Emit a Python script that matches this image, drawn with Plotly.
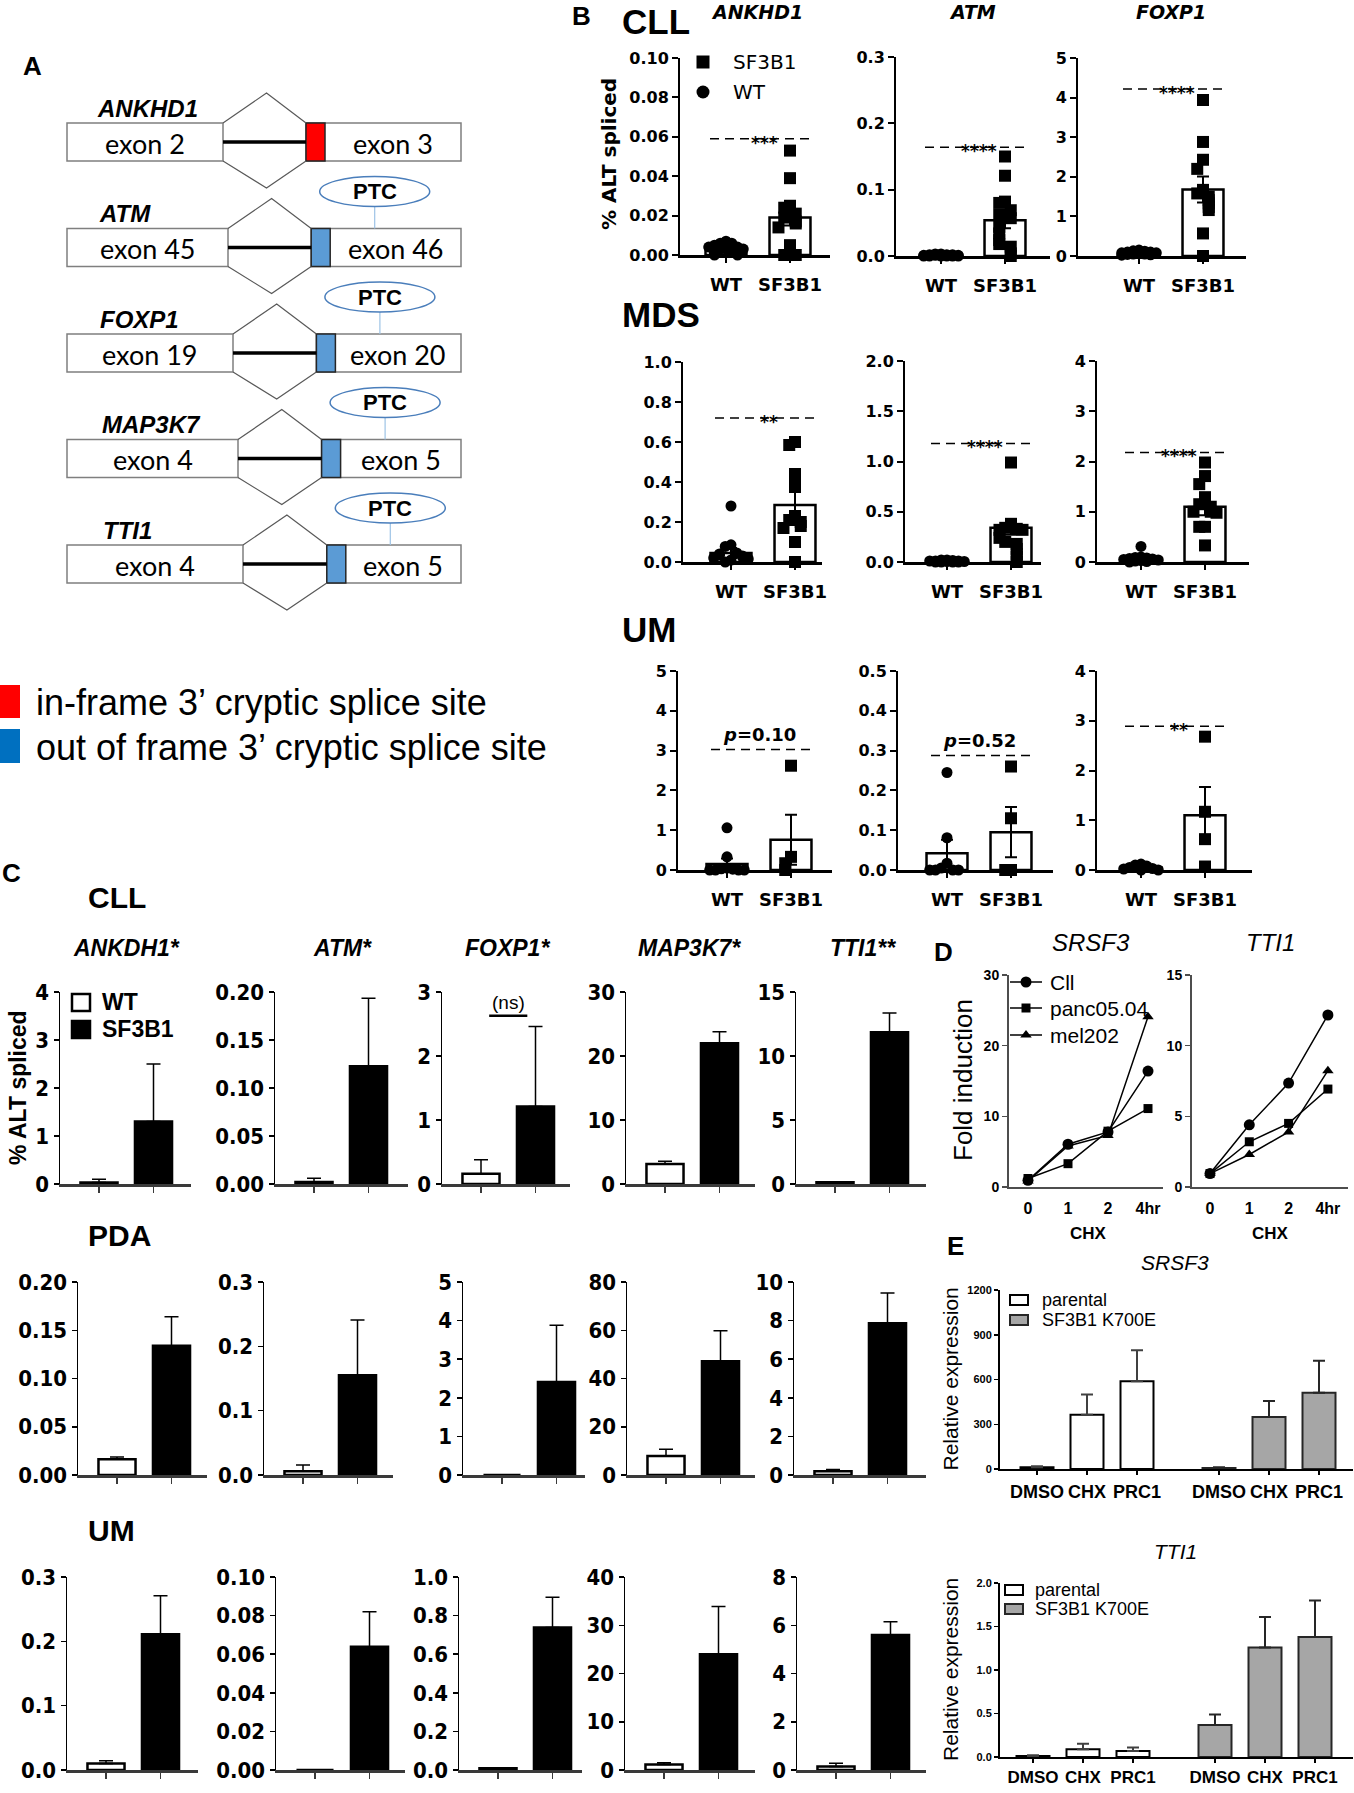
import numpy as np
import plotly.graph_objects as go

W, H = 1354, 1793
ARIAL = "Liberation Sans, Arial, Helvetica, sans-serif"
NARROW = "DejaVu Sans Condensed, Liberation Sans Narrow, Arial Narrow, sans-serif"
WIDE = "DejaVu Sans, Verdana, sans-serif"
CALIB = "Lato, Carlito, Calibri, sans-serif"

# ======================= DATA =======================
# ---- Panel A (diagram) ----
A_GENES = ["ANKHD1", "ATM", "FOXP1", "MAP3K7", "TTI1"]
A_EXON_UP = ["exon 2", "exon 45", "exon 19", "exon 4", "exon 4"]
A_EXON_DOWN = ["exon 3", "exon 46", "exon 20", "exon 5", "exon 5"]
A_SITE = ["in-frame", "out of frame", "out of frame", "out of frame", "out of frame"]
A_PTC = [False, True, True, True, True]
A_LEGEND = ["in-frame 3\u2019 cryptic splice site", "out of frame 3\u2019 cryptic splice site"]

# ---- Panel B (dot plots, % ALT spliced) ----
B_GROUPS = ["WT", "SF3B1"]
B_GENES = ["ANKHD1", "ATM", "FOXP1"]
B_COHORTS = ["CLL", "MDS", "UM"]

B_CLL_ANKHD1_WT = [0.007, 0.006, 0.006, 0.005, 0.004, 0.004, 0.003, 0.003, 0.003, 0.002, 0.002, 0.001, 0.001, 0.0, 0.0]
B_CLL_ANKHD1_SF3B1 = [0.053, 0.039, 0.025, 0.024, 0.021, 0.019, 0.017, 0.016, 0.014, 0.005, 0.0, 0.0]
B_CLL_ATM_WT = [0.003, 0.003, 0.002, 0.002, 0.002, 0.001, 0.001, 0.001, 0.001, 0.0, 0.0, 0.0, 0.0, 0.0, 0.0]
B_CLL_ATM_SF3B1 = [0.150, 0.121, 0.082, 0.080, 0.069, 0.062, 0.057, 0.044, 0.034, 0.024, 0.018, 0.014, 0.004, 0.0]
B_CLL_FOXP1_WT = [0.15, 0.13, 0.12, 0.10, 0.10, 0.08, 0.08, 0.06, 0.05, 0.05, 0.04, 0.03, 0.02]
B_CLL_FOXP1_SF3B1 = [3.94, 2.88, 2.43, 2.20, 1.67, 1.58, 1.50, 1.41, 1.33, 1.24, 1.16, 0.57, 0.0]
B_CLL_MEAN_WT = [0.003, 0.001, 0.08]
B_CLL_SEM_WT = [0.0005, 0.0003, 0.01]
B_CLL_MEAN_SF3B1 = [0.019, 0.054, 1.68]
B_CLL_SEM_SF3B1 = [0.004, 0.012, 0.33]
B_CLL_YMAX = [0.10, 0.3, 5]
B_CLL_DTICK = [0.02, 0.1, 1]
B_CLL_SIG = ["***", "****", "****"]
B_CLL_SIG_Y = [0.059, 0.164, 4.22]

B_MDS_ANKHD1_WT = [0.28, 0.086, 0.078, 0.045, 0.04, 0.035, 0.03, 0.025, 0.02, 0.015, 0.01, 0.0]
B_MDS_ANKHD1_SF3B1 = [0.60, 0.585, 0.44, 0.385, 0.23, 0.21, 0.20, 0.18, 0.17, 0.10, 0.0]
B_MDS_ATM_WT = [0.02, 0.02, 0.015, 0.01, 0.01, 0.01, 0.005, 0.005, 0.0, 0.0, 0.0, 0.0]
B_MDS_ATM_SF3B1 = [0.99, 0.38, 0.34, 0.33, 0.32, 0.32, 0.24, 0.20, 0.18, 0.13, 0.08, 0.05, 0.0]
B_MDS_FOXP1_WT = [0.31, 0.10, 0.09, 0.08, 0.07, 0.06, 0.05, 0.04, 0.03, 0.02, 0.01, 0.0]
B_MDS_FOXP1_SF3B1 = [1.98, 1.71, 1.55, 1.29, 1.15, 1.10, 1.0, 1.0, 0.98, 0.70, 0.70, 0.33]
B_MDS_MEAN_WT = [0.045, 0.008, 0.07]
B_MDS_SEM_WT = [0.025, 0.002, 0.025]
B_MDS_MEAN_SF3B1 = [0.285, 0.34, 1.10]
B_MDS_SEM_SF3B1 = [0.065, 0.07, 0.17]
B_MDS_YMAX = [1.0, 2.0, 4]
B_MDS_DTICK = [0.2, 0.5, 1]
B_MDS_SIG = ["**", "****", "****"]
B_MDS_SIG_Y = [0.72, 1.18, 2.18]

B_UM_ANKHD1_WT = [1.06, 0.33, 0.05, 0.03, 0.02, 0.0, 0.0, 0.0, 0.0]
B_UM_ANKHD1_SF3B1 = [2.62, 0.33, 0.17, 0.0]
B_UM_ATM_WT = [0.245, 0.081, 0.017, 0.005, 0.0, 0.0, 0.0, 0.0]
B_UM_ATM_SF3B1 = [0.26, 0.13, 0.0, 0.0]
B_UM_FOXP1_WT = [0.12, 0.10, 0.08, 0.05, 0.03, 0.02, 0.0, 0.0]
B_UM_FOXP1_SF3B1 = [2.68, 1.17, 0.62, 0.07]
B_UM_MEAN_WT = [0.15, 0.042, 0.05]
B_UM_SEM_WT = [0.14, 0.034, 0.02]
B_UM_MEAN_SF3B1 = [0.76, 0.095, 1.10]
B_UM_SEM_SF3B1 = [0.63, 0.063, 0.57]
B_UM_YMAX = [5, 0.5, 4]
B_UM_DTICK = [1, 0.1, 1]
B_UM_SIG = ["<i>p</i>=0.10", "<i>p</i>=0.52", "**"]
B_UM_SIG_Y = [3.03, 0.288, 2.89]

# ---- Panel C (bar charts, mean + SEM) ----
C_GENES = ["ANKDH1*", "ATM*", "FOXP1*", "MAP3K7*", "TTI1**"]
C_COHORTS = ["CLL", "PDA", "UM"]
C_GROUPS = ["WT", "SF3B1"]

C_CLL_WT = [0.03, 0.002, 0.16, 3.14, 0.13]
C_CLL_WT_ERR = [0.07, 0.004, 0.22, 0.42, 0.05]
C_CLL_SF3B1 = [1.30, 0.1226, 1.21, 22.0, 11.86]
C_CLL_SF3B1_ERR = [1.20, 0.071, 1.25, 1.8, 1.49]
C_CLL_YMAX = [4, 0.20, 3, 30, 15]
C_CLL_DTICK = [1, 0.05, 1, 10, 5]

C_PDA_WT = [0.0163, 0.0057, 0.0, 7.9, 0.19]
C_PDA_WT_ERR = [0.0023, 0.010, 0.0, 2.8, 0.10]
C_PDA_SF3B1 = [0.134, 0.155, 2.41, 47.2, 7.86]
C_PDA_SF3B1_ERR = [0.030, 0.086, 1.47, 12.6, 1.57]
C_PDA_YMAX = [0.20, 0.3, 5, 80, 10]
C_PDA_DTICK = [0.05, 0.1, 1, 20, 2]

C_UM_WT = [0.0102, 0.0, 0.009, 1.14, 0.15]
C_UM_WT_ERR = [0.004, 0.0, 0.002, 0.36, 0.13]
C_UM_SF3B1 = [0.211, 0.0638, 0.738, 24.0, 5.6]
C_UM_SF3B1_ERR = [0.060, 0.0182, 0.157, 9.9, 0.55]
C_UM_YMAX = [0.3, 0.10, 1.0, 40, 8]
C_UM_DTICK = [0.1, 0.02, 0.2, 10, 2]

C_NS_LABEL = "(ns)"
C_NS_Y = 2.63

# ---- Panel D (fold induction after CHX) ----
D_TIME = ["0", "1", "2", "4hr"]
D_LINES = ["Cll", "panc05.04", "mel202"]
D_SRSF3_CLL = [0.94, 6.05, 7.8, 16.4]
D_SRSF3_PANC = [1.2, 3.3, 7.9, 11.1]
D_SRSF3_MEL = [0.85, 5.8, 7.3, 24.1]
D_TTI1_CLL = [0.95, 4.4, 7.35, 12.17]
D_TTI1_PANC = [0.95, 3.2, 4.5, 6.93]
D_TTI1_MEL = [0.95, 2.3, 3.9, 8.23]
D_YMAX = [30, 15]
D_DTICK = [10, 5]

# ---- Panel E (relative expression) ----
E_TREAT = ["DMSO", "CHX", "PRC1"]
E_LINES = ["parental", "SF3B1 K700E"]
E_SRSF3_PAR = [12, 364, 589]
E_SRSF3_PAR_ERR = [7, 135, 207]
E_SRSF3_K700E = [7, 349, 511]
E_SRSF3_K700E_ERR = [5, 107, 214]
E_TTI1_PAR = [0.012, 0.088, 0.068]
E_TTI1_PAR_ERR = [0.008, 0.064, 0.04]
E_TTI1_K700E = [0.368, 1.26, 1.38]
E_TTI1_K700E_ERR = [0.12, 0.35, 0.42]
E_YMAX = [1200, 2.0]
E_DTICK = [300, 0.5]

# ================= LAYOUT PARAMETERS (pixels) =================
B_BOXES = [
    [(680, 830, 58, 255, 726), (896, 1050, 57, 256, 941), (1078, 1246, 58, 256, 1139)],
    [(683, 822, 362, 562, 731), (905, 1041, 361, 562, 947), (1097, 1249, 361, 562, 1141)],
    [(678, 832, 671, 870, 727), (898, 1053, 671, 870, 947), (1097, 1252, 671, 870, 1141)],
]
B_UNIT = 64
B_TITLE_Y = [21, 314, 629]
C_ROWS_Y = [(992, 1184), (1282, 1475), (1577, 1770)]
C_BOXES = [
    [(60, 191), (275, 408), (442, 570), (626, 755), (796, 926)],
    [(78, 207), (264, 393), (463, 585), (627, 755), (794, 926)],
    [(67, 198), (276, 405), (459, 582), (625, 755), (797, 926)],
]
C_TITLE_Y = [897, 1235, 1530]
C_GENE_X = [126, 342, 507, 689, 863]
C_FIRST, C_UNIT = 39, 54.5
D_BOXES = [(1009, 1163, 975, 1187, 1028, 40.0), (1192, 1348, 975, 1187, 1210, 39.3)]
E_BOXES = [(1000, 1353, 1290, 1469, 1037), (1000, 1353, 1583, 1757, 1033)]
E_UNIT, E_GAP = 50, 1.64

# ======================= FIGURE =======================
fig = go.Figure()
axes = {}
shapes = []
annos = []
_count = [0]


def add_axes(left, right, top, bottom, xrange, yrange, xopts=None, yopts=None):
    _count[0] += 1
    n = _count[0]
    s = "" if n == 1 else str(n)
    axes["xaxis" + s] = dict(domain=[left / W, right / W], range=xrange, anchor="y" + s, automargin=False,
                             showgrid=False, zeroline=False, fixedrange=True, **(xopts or {}))
    axes["yaxis" + s] = dict(domain=[1 - bottom / H, 1 - top / H], range=yrange, anchor="x" + s, automargin=False,
                             showgrid=False, zeroline=False, fixedrange=True, **(yopts or {}))
    return "x" + s, "y" + s


# full-page pixel overlay (for diagram, labels, legends)
PXA, PYA = add_axes(0, W, 0, H, [0, W], [H, 0], dict(visible=False), dict(visible=False))


def T(text, x, y, size, family=ARIAL, weight="normal", style="normal", xanchor="center",
      yanchor="middle", angle=0, xref=None, yref=None, **kw):
    annos.append(dict(text=text, x=x, y=y, xref=xref or PXA, yref=yref or PYA, showarrow=False,
                      xanchor=xanchor, yanchor=yanchor, textangle=angle,
                      font=dict(family=family, size=size, color="black", weight=weight, style=style), **kw))


def S(**kw):
    kw.setdefault("xref", PXA)
    kw.setdefault("yref", PYA)
    shapes.append(kw)


def tfmt(dt):
    s = f"{dt:g}"
    return f".{len(s.split('.')[1])}f" if "." in s else ".0f"


def swarm(vals, ymax, step=0.09, tol=0.05):
    vals = np.asarray(vals, float)
    order = np.argsort(-vals, kind="stable")
    pattern = [0, -1, 1, -2, 2, -3, 3]
    placed = []
    off = np.zeros(len(vals))
    for i in order:
        c = sum(1 for v in placed if abs(v - vals[i]) / ymax < tol)
        off[i] = pattern[c % len(pattern)] * step
        placed.append(vals[i])
    return off


# ---------------- Panel A ----------------
T("A", 32, 66, 26, weight="bold")
for i, gene in enumerate(A_GENES):
    yc = 142 + 105.5 * i
    lx1 = 223 + 5 * i
    bx0 = 306 + 5.2 * i
    bx1 = bx0 + 19
    S(type="rect", x0=67, x1=lx1, y0=yc - 19, y1=yc + 19, fillcolor="white",
      line=dict(color="#7F7F7F", width=1.5))
    S(type="rect", x0=bx0, x1=461, y0=yc - 19, y1=yc + 19, fillcolor="white",
      line=dict(color="#7F7F7F", width=1.5))
    S(type="rect", x0=bx0, x1=bx1, y0=yc - 19, y1=yc + 19,
      fillcolor="#FF0000" if A_SITE[i] == "in-frame" else "#5B9BD5",
      line=dict(color="#262626", width=1.5))
    S(type="line", x0=lx1, x1=bx0, y0=yc, y1=yc, line=dict(color="black", width=3.5))
    ax = (lx1 + bx0) / 2 + 2
    S(type="path", path=f"M {lx1},{yc-19} L {ax},{yc-49} L {bx0},{yc-19} "
                        f"M {lx1},{yc+19} L {ax},{yc+46} L {bx0},{yc+19}",
      line=dict(color="#595959", width=1.2))
    T(gene, 95 + 1.5 * i, yc - 34, 24, weight="bold", style="italic", xanchor="left")
    T(A_EXON_UP[i], (67 + lx1) / 2, yc + 1, 27, family=CALIB)
    T(A_EXON_DOWN[i], (bx1 + 461) / 2, yc + 1, 27, family=CALIB)
    if A_PTC[i]:
        cx = (bx0 + bx1) / 2 + 54
        S(type="line", x0=cx, x1=cx, y0=yc - 41, y1=yc - 19, line=dict(color="#9DC3E6", width=1.2))
        S(type="circle", x0=cx - 55, x1=cx + 55, y0=yc - 71, y1=yc - 41, fillcolor="white",
          line=dict(color="#4A7EBB", width=1.5))
        T("PTC", cx, yc - 56, 22, weight="bold")

S(type="rect", x0=0, x1=20, y0=685, y1=718, fillcolor="#FF0000", line=dict(width=0))
S(type="rect", x0=0, x1=20, y0=729, y1=763, fillcolor="#0070C0", line=dict(width=0))
T(A_LEGEND[0], 34, 702, 36, xanchor="left")
T(A_LEGEND[1], 34, 747, 36, xanchor="left")

# ---------------- Panel B ----------------
T("B", 581, 16, 26, weight="bold")
B_ROWS = [
    ([B_CLL_ANKHD1_WT, B_CLL_ATM_WT, B_CLL_FOXP1_WT], [B_CLL_ANKHD1_SF3B1, B_CLL_ATM_SF3B1, B_CLL_FOXP1_SF3B1],
     B_CLL_MEAN_WT, B_CLL_SEM_WT, B_CLL_MEAN_SF3B1, B_CLL_SEM_SF3B1, B_CLL_YMAX, B_CLL_DTICK, B_CLL_SIG, B_CLL_SIG_Y),
    ([B_MDS_ANKHD1_WT, B_MDS_ATM_WT, B_MDS_FOXP1_WT], [B_MDS_ANKHD1_SF3B1, B_MDS_ATM_SF3B1, B_MDS_FOXP1_SF3B1],
     B_MDS_MEAN_WT, B_MDS_SEM_WT, B_MDS_MEAN_SF3B1, B_MDS_SEM_SF3B1, B_MDS_YMAX, B_MDS_DTICK, B_MDS_SIG, B_MDS_SIG_Y),
    ([B_UM_ANKHD1_WT, B_UM_ATM_WT, B_UM_FOXP1_WT], [B_UM_ANKHD1_SF3B1, B_UM_ATM_SF3B1, B_UM_FOXP1_SF3B1],
     B_UM_MEAN_WT, B_UM_SEM_WT, B_UM_MEAN_SF3B1, B_UM_SEM_SF3B1, B_UM_YMAX, B_UM_DTICK, B_UM_SIG, B_UM_SIG_Y),
]
for r, (wts, sfs, mwt, swt, msf, ssf, ymaxs, dticks, sigs, sigys) in enumerate(B_ROWS):
    T(B_COHORTS[r], 620, B_TITLE_Y[r], 35, weight="bold", xanchor="left")
    for j in range(3):
        left, right, top, bottom, wtpx = B_BOXES[r][j]
        xr = [-(wtpx - left) / B_UNIT, (right - wtpx) / B_UNIT]
        xo = dict(showline=True, linecolor="black", linewidth=2.5, ticks="outside", ticklen=5, tickwidth=2,
                  tickcolor="black", tickvals=[0, 1], ticktext=B_GROUPS, ticklabelstandoff=7,
                  tickfont=dict(family=WIDE, size=18, weight="bold", color="black"))
        yo = dict(showline=True, linecolor="black", linewidth=2, ticks="outside", ticklen=6, tickwidth=2,
                  tickcolor="black", tick0=0, dtick=dticks[j], tickformat=tfmt(dticks[j]),
                  tickfont=dict(family=WIDE, size=16, weight="bold", color="black"))
        xa, ya = add_axes(left, right, top, bottom, xr, [0, ymaxs[j]], xo, yo)
        fig.add_trace(go.Bar(x=[0, 1], y=[mwt[j], msf[j]], width=0.64, xaxis=xa, yaxis=ya,
                             marker=dict(color="white", line=dict(color="black", width=2.5)),
                             error_y=dict(type="data", array=[swt[j], ssf[j]], color="black", thickness=2, width=6),
                             showlegend=False, hoverinfo="skip"))
        for k, (vals, sym) in enumerate([(wts[j], "circle"), (sfs[j], "square")]):
            off = swarm(vals, ymaxs[j])
            fig.add_trace(go.Scatter(x=k + off, y=vals, mode="markers", xaxis=xa, yaxis=ya, cliponaxis=False,
                                     marker=dict(symbol=sym, size=12 if sym == "square" else 11, color="black",
                                                 line=dict(width=0)),
                                     name=B_GROUPS[k], showlegend=False))
        S(type="line", xref=xa, yref=ya, x0=-0.25, x1=1.3, y0=sigys[j], y1=sigys[j],
          line=dict(color="black", width=1.5, dash="9px,6px"))
        if sigs[j].startswith("<i>"):
            T(sigs[j], 0.5, sigys[j], 18, family=WIDE, weight="bold", xref=xa, yref=ya, yanchor="bottom", yshift=2)
        else:
            T(sigs[j], 0.6, sigys[j], 17, family=WIDE, weight="bold", xref=xa, yref=ya, yshift=-4)
        if r == 0:
            T(B_GENES[j], [757, 972, 1171][j], 12, 19, family=WIDE, weight="bold", style="italic")
T("% ALT spliced", 609, 154, 20, family=WIDE, weight="bold", angle=-90)
fig.add_trace(go.Scatter(x=[703], y=[62], xaxis=PXA, yaxis=PYA, mode="markers",
                         marker=dict(symbol="square", size=13, color="black"), showlegend=False))
fig.add_trace(go.Scatter(x=[703], y=[92], xaxis=PXA, yaxis=PYA, mode="markers",
                         marker=dict(symbol="circle", size=13, color="black"), showlegend=False))
T(B_GROUPS[1], 731, 62, 20, family=WIDE, xanchor="left")
T(B_GROUPS[0], 731, 92, 20, family=WIDE, xanchor="left")

# ---------------- Panel C ----------------
T("C", 11, 873, 26, weight="bold")
C_ROWS = [
    (C_CLL_WT, C_CLL_WT_ERR, C_CLL_SF3B1, C_CLL_SF3B1_ERR, C_CLL_YMAX, C_CLL_DTICK),
    (C_PDA_WT, C_PDA_WT_ERR, C_PDA_SF3B1, C_PDA_SF3B1_ERR, C_PDA_YMAX, C_PDA_DTICK),
    (C_UM_WT, C_UM_WT_ERR, C_UM_SF3B1, C_UM_SF3B1_ERR, C_UM_YMAX, C_UM_DTICK),
]
for r, (wt, wte, sf, sfe, ymaxs, dticks) in enumerate(C_ROWS):
    top, bottom = C_ROWS_Y[r]
    T(C_COHORTS[r], 86, C_TITLE_Y[r], 30, weight="bold", xanchor="left")
    for j in range(5):
        left, right = C_BOXES[r][j]
        xr = [-C_FIRST / C_UNIT, (right - left - C_FIRST) / C_UNIT]
        xo = dict(showline=True, linecolor="#3A3A3A", linewidth=3, ticks="outside", ticklen=6, tickwidth=1.5,
                  tickcolor="#3A3A3A", tickvals=[0, 1], showticklabels=False)
        yo = dict(showline=True, linecolor="black", linewidth=1.5, ticks="outside", ticklen=5, tickwidth=1.5,
                  tickcolor="black", tick0=0, dtick=dticks[j], tickformat=tfmt(dticks[j]),
                  tickfont=dict(family=NARROW, size=22, weight="bold", color="black"))
        xa, ya = add_axes(left, right, top, bottom, xr, [0, ymaxs[j]], xo, yo)
        fig.add_trace(go.Bar(x=[0, 1], y=[wt[j], sf[j]], width=0.68, xaxis=xa, yaxis=ya,
                             marker=dict(color=["white", "black"], line=dict(color="black", width=2.5)),
                             error_y=dict(type="data", symmetric=False, array=[wte[j], sfe[j]], arrayminus=[0, 0],
                                          color="black", thickness=1.5, width=7),
                             showlegend=False, hoverinfo="skip"))
        if r == 0:
            T(C_GENES[j], C_GENE_X[j], 948, 23, weight="bold", style="italic")
            if j == 2:
                S(type="line", xref=xa, yref=ya, x0=0.15, x1=0.85, y0=C_NS_Y, y1=C_NS_Y,
                  line=dict(color="black", width=2.5))
                T(C_NS_LABEL, 0.5, C_NS_Y, 19, xref=xa, yref=ya, yanchor="bottom", yshift=1)
T("% ALT spliced", 18, 1088, 23, weight="bold", angle=-90)
S(type="rect", x0=72, x1=90, y0=994, y1=1011, fillcolor="white", line=dict(color="black", width=2.5))
S(type="rect", x0=72, x1=90, y0=1021, y1=1038, fillcolor="black", line=dict(color="black", width=2.5))
T(C_GROUPS[0], 100, 1002, 23, weight="bold", xanchor="left")
T(C_GROUPS[1], 100, 1029, 23, weight="bold", xanchor="left")

# ---------------- Panel D ----------------
T("D", 943, 952, 26, weight="bold")
D_SETS = [(D_SRSF3_CLL, D_SRSF3_PANC, D_SRSF3_MEL), (D_TTI1_CLL, D_TTI1_PANC, D_TTI1_MEL)]
D_TITLES = ["SRSF3", "TTI1"]
D_SYMBOLS = ["circle", "square", "triangle-up"]
D_SIZES = [11, 9, 10]
for p, (left, right, top, bottom, first, unit) in enumerate(D_BOXES):
    xr = [-(first - left) / unit, (right - first) / unit]
    xo = dict(showline=True, linecolor="#4D4D4D", linewidth=2, ticks="", tickvals=list(range(len(D_TIME))),
              ticktext=D_TIME, ticklabelstandoff=6,
              tickfont=dict(family=ARIAL, size=16, weight="bold", color="black"))
    yo = dict(showline=True, linecolor="#4D4D4D", linewidth=2, ticks="outside", ticklen=5, tickwidth=1.5,
              tickcolor="#4D4D4D", tick0=0, dtick=D_DTICK[p],
              tickfont=dict(family=ARIAL, size=14, weight="bold", color="black"))
    xa, ya = add_axes(left, right, top, bottom, xr, [0, D_YMAX[p]], xo, yo)
    for k, vals in enumerate(D_SETS[p]):
        fig.add_trace(go.Scatter(x=list(range(len(D_TIME))), y=vals, mode="lines+markers", xaxis=xa, yaxis=ya,
                                 cliponaxis=False, line=dict(color="black", width=1.5),
                                 marker=dict(symbol=D_SYMBOLS[k], size=D_SIZES[k], color="black"),
                                 name=D_LINES[k], showlegend=False))
    T(D_TITLES[p], (left + right) / 2 + (5 if p == 0 else 0), 942, 24, style="italic")
    T("CHX", [1088, 1270][p], 1233, 17, weight="bold")
T("Fold induction", 963, 1080, 26, angle=-90)
for k, name in enumerate(D_LINES):
    yy = [982, 1008, 1035][k]
    fig.add_trace(go.Scatter(x=[1010, 1042], y=[yy, yy], xaxis=PXA, yaxis=PYA, mode="lines",
                             line=dict(color="black", width=1.5), showlegend=False, hoverinfo="skip"))
    fig.add_trace(go.Scatter(x=[1026], y=[yy], xaxis=PXA, yaxis=PYA, mode="markers",
                             marker=dict(symbol=D_SYMBOLS[k], size=D_SIZES[k], color="black"),
                             showlegend=False, hoverinfo="skip"))
    T(name, 1048, yy, 21, xanchor="left")

# ---------------- Panel E ----------------
T("E", 955, 1246, 26, weight="bold")
E_SETS = [(E_SRSF3_PAR, E_SRSF3_PAR_ERR, E_SRSF3_K700E, E_SRSF3_K700E_ERR),
          (E_TTI1_PAR, E_TTI1_PAR_ERR, E_TTI1_K700E, E_TTI1_K700E_ERR)]
E_TITLES = ["SRSF3", "TTI1"]
E_TITLE_Y = [1262, 1551]
E_LEG = [(1010, 1300, 1320, 1040), (1005, 1590, 1609, 1033)]
E_XFONT = [18, 17]
E_STANDOFF = [1, 0]
x_par = [float(i) for i in range(len(E_TREAT))]
x_k7 = [i + (len(E_TREAT) - 1) + E_GAP for i in range(len(E_TREAT))]
for p, (left, right, top, bottom, first) in enumerate(E_BOXES):
    xr = [-(first - left) / E_UNIT, (right - first) / E_UNIT]
    xo = dict(showline=True, linecolor="black", linewidth=2, ticks="outside", ticklen=4, tickwidth=1.5,
              tickcolor="black", tickvals=x_par + x_k7, ticktext=E_TREAT * 2, ticklabelstandoff=E_STANDOFF[p],
              tickfont=dict(family=ARIAL, size=E_XFONT[p], weight="bold", color="black"))
    yo = dict(showline=True, linecolor="black", linewidth=2, ticks="outside", ticklen=4, tickwidth=1.5,
              tickcolor="black", tick0=0, dtick=E_DTICK[p], tickformat=tfmt(E_DTICK[p]),
              tickfont=dict(family=ARIAL, size=11, weight="bold", color="black"))
    xa, ya = add_axes(left, right, top, bottom, xr, [0, E_YMAX[p]], xo, yo)
    par, pare, k7, k7e = E_SETS[p]
    fig.add_trace(go.Bar(x=x_par, y=par, width=0.66, xaxis=xa, yaxis=ya, name=E_LINES[0],
                         marker=dict(color="white", line=dict(color="black", width=2)),
                         error_y=dict(type="data", symmetric=False, array=pare, arrayminus=[0] * 3,
                                      color="#404040", thickness=2, width=6), showlegend=False))
    fig.add_trace(go.Bar(x=x_k7, y=k7, width=0.66, xaxis=xa, yaxis=ya, name=E_LINES[1],
                         marker=dict(color="#A6A6A6", line=dict(color="#262626", width=2)),
                         error_y=dict(type="data", symmetric=False, array=k7e, arrayminus=[0] * 3,
                                      color="#262626", thickness=2, width=6), showlegend=False))
    T(E_TITLES[p], 1175, E_TITLE_Y[p], 21, style="italic")
    T("Relative expression", 950, (top + bottom) / 2 + 0, 21, angle=-90)
    lx, ly1, ly2, tx = E_LEG[p]
    S(type="rect", x0=lx, x1=lx + 18, y0=ly1 - 5, y1=ly1 + 5, fillcolor="white", line=dict(color="black", width=2))
    S(type="rect", x0=lx, x1=lx + 18, y0=ly2 - 5, y1=ly2 + 5, fillcolor="#A6A6A6", line=dict(color="#262626", width=2))
    T(E_LINES[0], tx, ly1, 18, xanchor="left")
    T(E_LINES[1], tx, ly2, 18, xanchor="left")

fig.update_layout(width=W, height=H, margin=dict(l=0, r=0, t=0, b=0, pad=0, autoexpand=False),
                  paper_bgcolor="white", plot_bgcolor="rgba(0,0,0,0)", showlegend=False, barmode="overlay",
                  font=dict(family=ARIAL, color="black"), shapes=shapes, annotations=annos, **axes)
fig.write_html("out.html", config={"displayModeBar": False, "staticPlot": True},
               post_script="document.body.style.margin='0px';document.body.style.overflow='hidden';")
